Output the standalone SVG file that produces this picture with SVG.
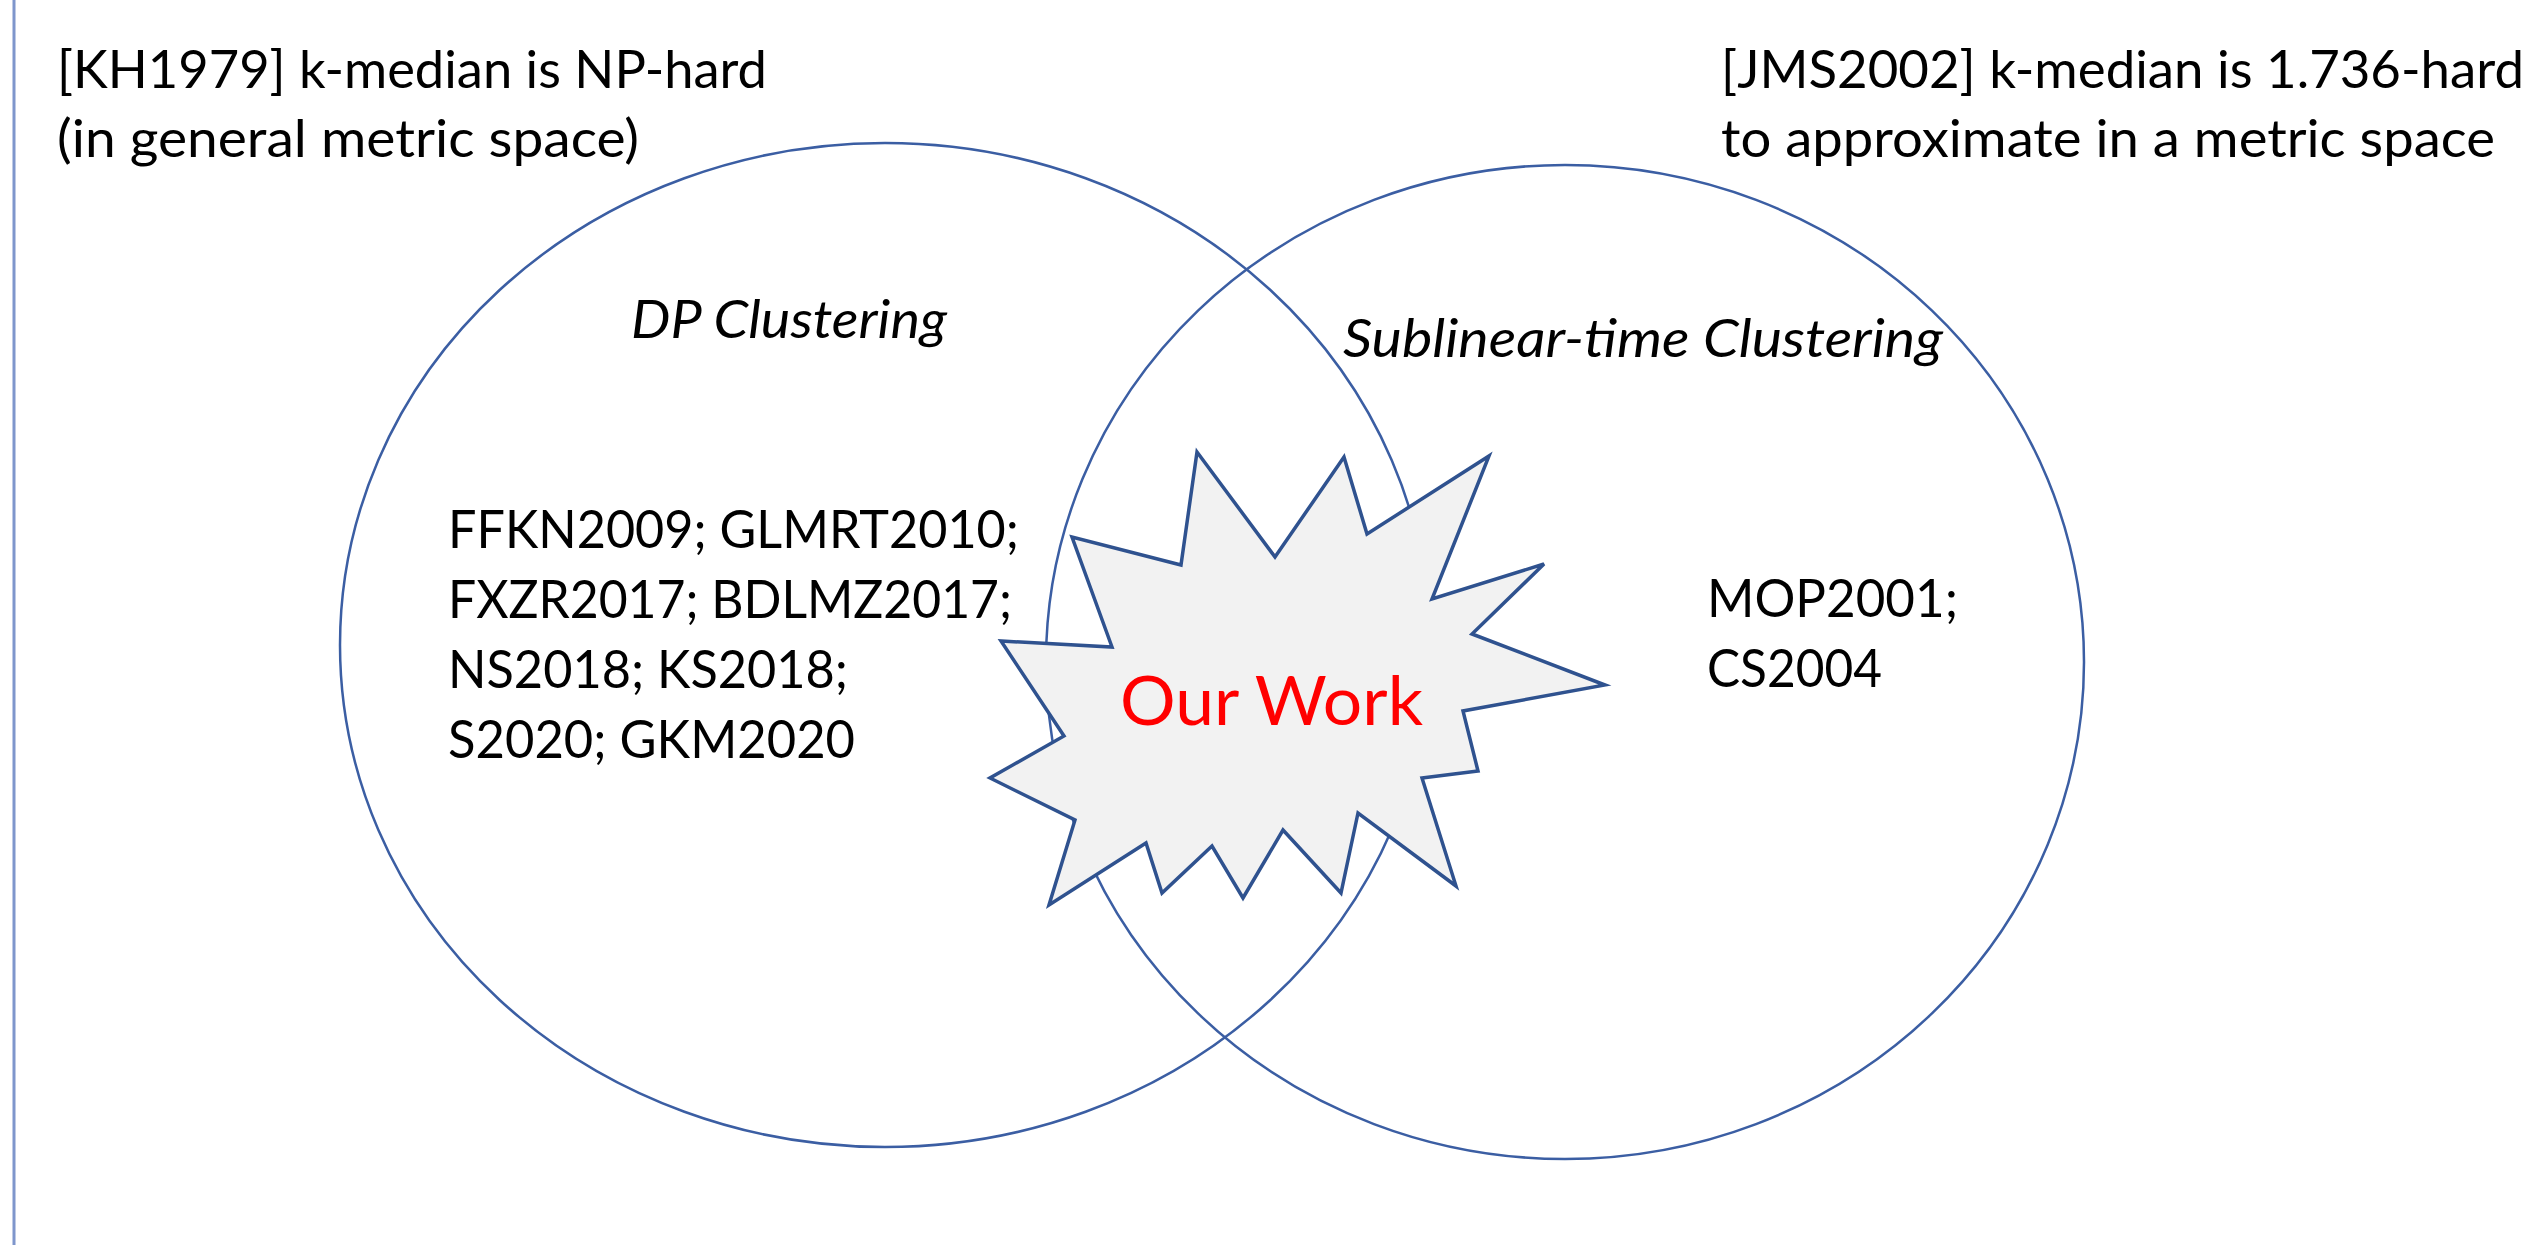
<svg xmlns="http://www.w3.org/2000/svg" width="2538" height="1245" viewBox="0 0 2538 1245">
  <style>
    .txt { font-family: Lato, "Open Sans", "Liberation Sans", sans-serif; font-size: 52px; fill: #000; }
    .ital { font-style: italic; }
    .set { fill: none; stroke: #3b5ea3; stroke-width: 2.5; }
    .burst { fill: #f2f2f2; stroke: #2f528f; stroke-width: 3.5; stroke-linejoin: miter; }
    .hl { font-family: Lato, "Open Sans", "Liberation Sans", sans-serif; font-size: 68px; fill: #ff0000; }
  </style>

  <rect x="0" y="0" width="2538" height="1245" fill="#ffffff"/>

  <!-- left margin rule -->
  <g id="margin-rule">
    <line x1="14" y1="0" x2="14" y2="1245" stroke="#7f96cc" stroke-width="3"/>
  </g>

  <!-- hardness notes -->
  <g id="note-kh1979">
    <text class="txt" x="57" y="88" textLength="710" lengthAdjust="spacingAndGlyphs">[KH1979] k-median is NP-hard</text>
    <text class="txt" x="57" y="157" textLength="582" lengthAdjust="spacingAndGlyphs">(in general metric space)</text>
  </g>
  <g id="note-jms2002">
    <text class="txt" x="1721" y="88" textLength="803" lengthAdjust="spacingAndGlyphs">[JMS2002] k-median is 1.736-hard</text>
    <text class="txt" x="1721" y="157" textLength="774" lengthAdjust="spacingAndGlyphs">to approximate in a metric space</text>
  </g>

  <!-- DP clustering set -->
  <g id="set-dp">
    <ellipse class="set" cx="885" cy="645" rx="545" ry="502"/>
    <text class="txt ital" x="631" y="338" textLength="316" lengthAdjust="spacingAndGlyphs">DP Clustering</text>
    <text class="txt" x="448" y="548" textLength="571" lengthAdjust="spacingAndGlyphs">FFKN2009; GLMRT2010;</text>
    <text class="txt" x="448" y="618" textLength="564" lengthAdjust="spacingAndGlyphs">FXZR2017; BDLMZ2017;</text>
    <text class="txt" x="448" y="688" textLength="400" lengthAdjust="spacingAndGlyphs">NS2018; KS2018;</text>
    <text class="txt" x="448" y="758" textLength="407" lengthAdjust="spacingAndGlyphs">S2020; GKM2020</text>
  </g>

  <!-- sublinear-time clustering set -->
  <g id="set-sublinear">
    <ellipse class="set" cx="1565" cy="662" rx="519" ry="497"/>
    <text class="txt ital" x="1343" y="357" textLength="600" lengthAdjust="spacingAndGlyphs">Sublinear-time Clustering</text>
    <text class="txt" x="1707" y="617" textLength="251" lengthAdjust="spacingAndGlyphs">MOP2001;</text>
    <text class="txt" x="1707" y="687" textLength="175" lengthAdjust="spacingAndGlyphs">CS2004</text>
  </g>

  <g id="connectors"/>

  <!-- intersection highlight burst -->
  <g id="our-work">
    <line x1="1266" y1="546" x2="1276" y2="558" stroke="#ff0000" stroke-width="3"/>
    <polygon class="burst" points="1197,452 1275,557 1344,457 1367,534 1489,456 1432,599 1544,564 1472,634 1605,685 1463,711 1478,771 1422,778 1456,886 1358,813 1341,893 1283,830 1243,898 1212,846 1162,893 1146,843 1049,905 1075,820 990,778 1064,736 1001,641 1112,647 1072,537 1181,565"/>
    <text class="hl" x="1120" y="725" textLength="303" lengthAdjust="spacingAndGlyphs">Our Work</text>
  </g>
</svg>
